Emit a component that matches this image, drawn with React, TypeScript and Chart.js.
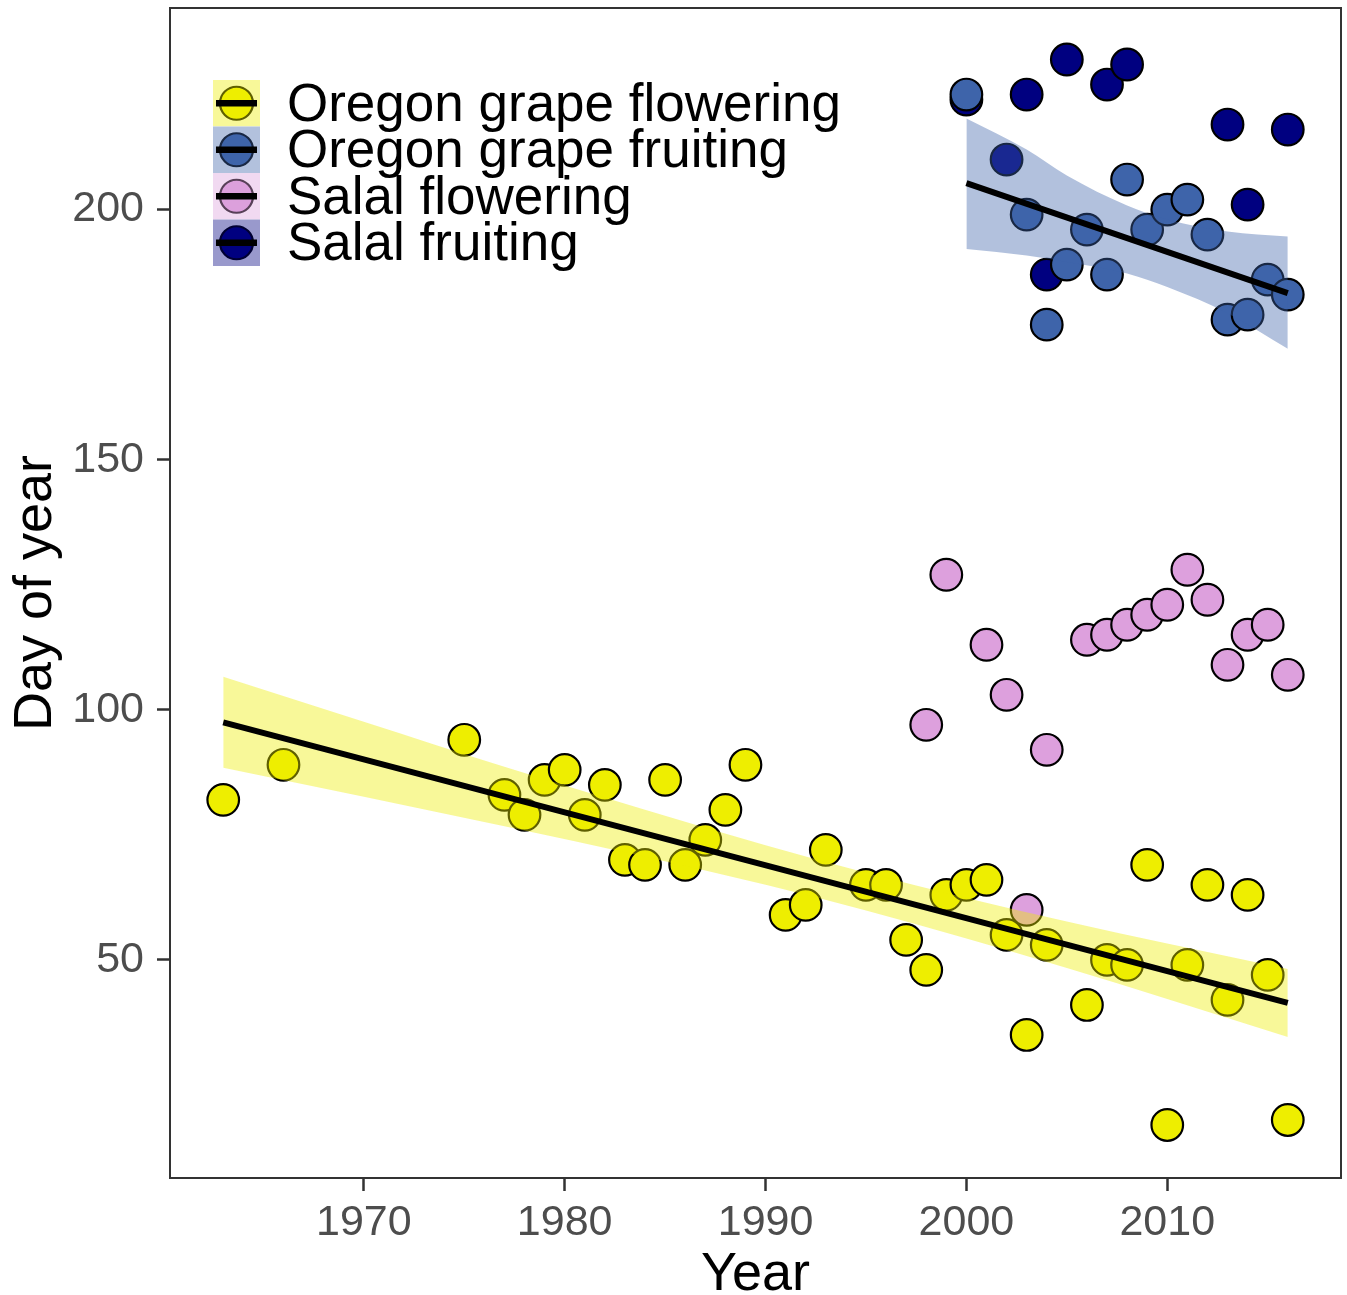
import React, { useEffect, useRef } from 'react';
import { Chart, registerables } from 'chart.js';

Chart.register(...registerables);

const FONT = "'Liberation Sans', Arial, Helvetica, sans-serif";

// ---------- data ----------
const seriesNames = ['Oregon grape flowering', 'Oregon grape fruiting', 'Salal flowering', 'Salal fruiting'];
const pointColors = ['#EEEE00', '#3E64AA', '#DDA0DD', '#000080'];
const bandColors = ['rgba(238,238,0,0.4)', 'rgba(62,100,170,0.4)', 'rgba(221,160,221,0.4)', 'rgba(0,0,128,0.4)'];

const ogFlowerYears = [1963, 1966, 1975, 1977, 1978, 1979, 1980, 1981, 1982, 1983, 1984, 1985, 1986, 1987, 1988, 1989, 1991, 1992, 1993, 1995, 1996, 1997, 1998, 1999, 2000, 2001, 2002, 2003, 2004, 2006, 2007, 2008, 2009, 2010, 2011, 2012, 2013, 2014, 2015, 2016];
const ogFlowerDays = [82, 89, 94, 83, 79, 86, 88, 79, 85, 70, 69, 86, 69, 74, 80, 89, 59, 61, 72, 65, 65, 54, 48, 63, 65, 66, 55, 35, 53, 41, 50, 49, 69, 17, 49, 65, 42, 63, 47, 18];

const ogFruitYears = [2000, 2003, 2004, 2005, 2006, 2007, 2008, 2009, 2010, 2011, 2012, 2013, 2014, 2015, 2016];
const ogFruitDays = [223, 199, 177, 189, 196, 187, 206, 196, 200, 202, 195, 178, 179, 186, 183];

const salalFlowerYears = [1998, 1999, 2001, 2002, 2003, 2004, 2006, 2007, 2008, 2009, 2010, 2011, 2012, 2013, 2014, 2015, 2016];
const salalFlowerDays = [97, 127, 113, 103, 60, 92, 114, 115, 117, 119, 121, 128, 122, 109, 115, 117, 107];

const salalFruitYears = [2000, 2002, 2003, 2004, 2005, 2007, 2008, 2013, 2014, 2016];
const salalFruitDays = [222, 210, 223, 187, 230, 225, 229, 217, 201, 216];

// fitted lines
const ogFlowerTrendYears = [1963, 2016];
const ogFlowerTrendDays = [97.5, 41.4];
const ogFruitTrendYears = [2000, 2016];
const ogFruitTrendDays = [205.3, 183.3];

// confidence ribbons
const ogFlowerBandYears = [1963, 1970, 1977, 1984, 1990, 1995, 2000, 2005, 2010, 2016];
const ogFlowerBandUpper = [106.6, 97.6, 88.6, 80.0, 72.9, 67.4, 62.4, 57.7, 53.3, 48.2];
const ogFlowerBandLower = [88.4, 82.6, 76.7, 70.6, 65.0, 59.9, 54.3, 48.4, 42.2, 34.6];

const ogFruitBandYears = [2000, 2003, 2005, 2008, 2010, 2013, 2016];
const ogFruitBandUpper = [218.2, 212.0, 206.8, 200.8, 198.0, 195.6, 194.6];
const ogFruitBandLower = [192.1, 190.8, 189.5, 187.2, 184.5, 179.3, 172.2];

const xTicks = [1970, 1980, 1990, 2000, 2010];
const yTicks = [50, 100, 150, 200];
const xRange = [1960.35, 2018.65];
const yRange = [6.4, 240.3];

const toXY = (xs: number[], ys: number[]) => xs.map((x, i) => ({ x, y: ys[i] }));

export default function App() {
  const ref = useRef<HTMLCanvasElement>(null);

  useEffect(() => {
    const canvas = ref.current;
    if (!canvas) return;

    const panelBorder = {
      id: 'panelBorder',
      afterDatasetsDraw(chart: any) {
        const { left, top, right, bottom } = chart.chartArea;
        const ctx = chart.ctx;
        ctx.save();
        ctx.strokeStyle = '#333333';
        ctx.lineWidth = 2;
        ctx.strokeRect(left, top, right - left, bottom - top);
        ctx.restore();
      },
    };

    const customLegend = {
      id: 'customLegend',
      afterDraw(chart: any) {
        const ctx = chart.ctx;
        const keyX = 213;
        const keyW = 47;
        const keyTop = 80;
        const rowH = 46.5;
        const textX = 287;
        ctx.save();
        for (let i = 0; i < seriesNames.length; i++) {
          const top = keyTop + i * rowH;
          const cx = keyX + keyW / 2;
          const cy = top + rowH / 2;
          ctx.fillStyle = '#ffffff';
          ctx.fillRect(keyX, top, keyW, rowH);
          ctx.beginPath();
          ctx.arc(cx, cy, 16.5, 0, Math.PI * 2);
          ctx.fillStyle = pointColors[i];
          ctx.fill();
          ctx.lineWidth = 2.2;
          ctx.strokeStyle = '#000';
          ctx.stroke();
          ctx.fillStyle = bandColors[i];
          ctx.fillRect(keyX, top, keyW, rowH);
          ctx.beginPath();
          ctx.moveTo(keyX + 3, cy);
          ctx.lineTo(keyX + keyW - 3, cy);
          ctx.lineWidth = 6.5;
          ctx.strokeStyle = '#000';
          ctx.stroke();
          ctx.fillStyle = '#000';
          ctx.font = `53px ${FONT}`;
          ctx.textAlign = 'left';
          ctx.textBaseline = 'middle';
          ctx.fillText(seriesNames[i], textX, cy + 3);
        }
        ctx.restore();
      },
    };

    const pointDs = (label: string, xs: number[], ys: number[], color: string, order: number) => ({
      type: 'scatter' as const,
      label,
      data: toXY(xs, ys),
      backgroundColor: color,
      borderColor: '#000000',
      borderWidth: 2.2,
      pointRadius: 15.8,
      pointHoverRadius: 15.8,
      order,
    });

    const bandDs = (label: string, xs: number[], ys: number[], fill: any, color: string, order: number) => ({
      type: 'line' as const,
      label,
      data: toXY(xs, ys),
      showLine: true,
      borderColor: 'rgba(0,0,0,0)',
      borderWidth: 0,
      pointRadius: 0,
      backgroundColor: color,
      fill,
      cubicInterpolationMode: 'monotone',
      order,
    });

    const trendDs = (label: string, xs: number[], ys: number[]) => ({
      type: 'line' as const,
      label,
      data: toXY(xs, ys),
      showLine: true,
      borderColor: '#000000',
      borderWidth: 6,
      pointRadius: 0,
      fill: false,
      order: 1,
    });

    const chart = new Chart(canvas, {
      type: 'scatter',
      data: {
        datasets: [
          pointDs(seriesNames[3], salalFruitYears, salalFruitDays, pointColors[3], 10),
          pointDs(seriesNames[0], ogFlowerYears, ogFlowerDays, pointColors[0], 9),
          pointDs(seriesNames[1], ogFruitYears, ogFruitDays, pointColors[1], 8),
          pointDs(seriesNames[2], salalFlowerYears, salalFlowerDays, pointColors[2], 7),
          bandDs('ogFlowerUpper', ogFlowerBandYears, ogFlowerBandUpper, '+1', bandColors[0], 5),
          bandDs('ogFlowerLower', ogFlowerBandYears, ogFlowerBandLower, false, 'rgba(0,0,0,0)', 5),
          bandDs('ogFruitUpper', ogFruitBandYears, ogFruitBandUpper, '+1', bandColors[1], 4),
          bandDs('ogFruitLower', ogFruitBandYears, ogFruitBandLower, false, 'rgba(0,0,0,0)', 4),
          trendDs('ogFlowerTrend', ogFlowerTrendYears, ogFlowerTrendDays),
          trendDs('ogFruitTrend', ogFruitTrendYears, ogFruitTrendDays),
        ] as any,
      },
      options: {
        animation: false,
        responsive: false,
        devicePixelRatio: 1,
        layout: { autoPadding: false, padding: { left: 0, right: 6, top: 8, bottom: 0 } },
        plugins: {
          legend: { display: false },
          tooltip: { enabled: false },
        },
        scales: {
          x: {
            type: 'linear',
            min: xRange[0],
            max: xRange[1],
            afterBuildTicks: (s: any) => {
              s.ticks = xTicks.map((v) => ({ value: v }));
            },
            afterFit: (s: any) => {
              s.height = 117;
              s.paddingLeft = 0;
              s.paddingRight = 0;
            },
            ticks: {
              color: '#4D4D4D',
              font: { family: FONT, size: 43 },
              padding: 6,
              autoSkip: false,
              maxRotation: 0,
              callback: (v: any) => String(v),
            },
            grid: {
              drawOnChartArea: false,
              drawTicks: true,
              tickLength: 13,
              tickColor: '#333333',
              tickWidth: 2.5,
            },
            border: { display: true, color: '#333333', width: 2 },
            title: {
              display: true,
              text: 'Year',
              color: '#000000',
              font: { family: FONT, size: 54, lineHeight: 0.75 },
              padding: 0,
            },
          },
          y: {
            type: 'linear',
            min: yRange[0],
            max: yRange[1],
            afterBuildTicks: (s: any) => {
              s.ticks = yTicks.map((v) => ({ value: v }));
            },
            afterFit: (s: any) => {
              s.width = 170;
              s.paddingTop = 0;
              s.paddingBottom = 0;
            },
            ticks: {
              color: '#4D4D4D',
              font: { family: FONT, size: 43 },
              padding: 13,
              autoSkip: false,
              callback: (v: any) => String(v),
            },
            grid: {
              drawOnChartArea: false,
              drawTicks: true,
              tickLength: 13,
              tickColor: '#333333',
              tickWidth: 2.5,
            },
            border: { display: true, color: '#333333', width: 2 },
            title: {
              display: true,
              text: 'Day of year',
              color: '#000000',
              font: { family: FONT, size: 54, lineHeight: 1.2 },
              padding: { top: 4, bottom: 0 },
            },
          },
        },
      },
      plugins: [panelBorder, customLegend],
    } as any);

    return () => {
      chart.destroy();
    };
  }, []);

  return (
    <div style={{ position: 'absolute', left: 0, top: 0, width: 1347, height: 1295, background: '#ffffff' }}>
      <canvas ref={ref} width={1347} height={1295} style={{ display: 'block', width: 1347, height: 1295 }} />
    </div>
  );
}
